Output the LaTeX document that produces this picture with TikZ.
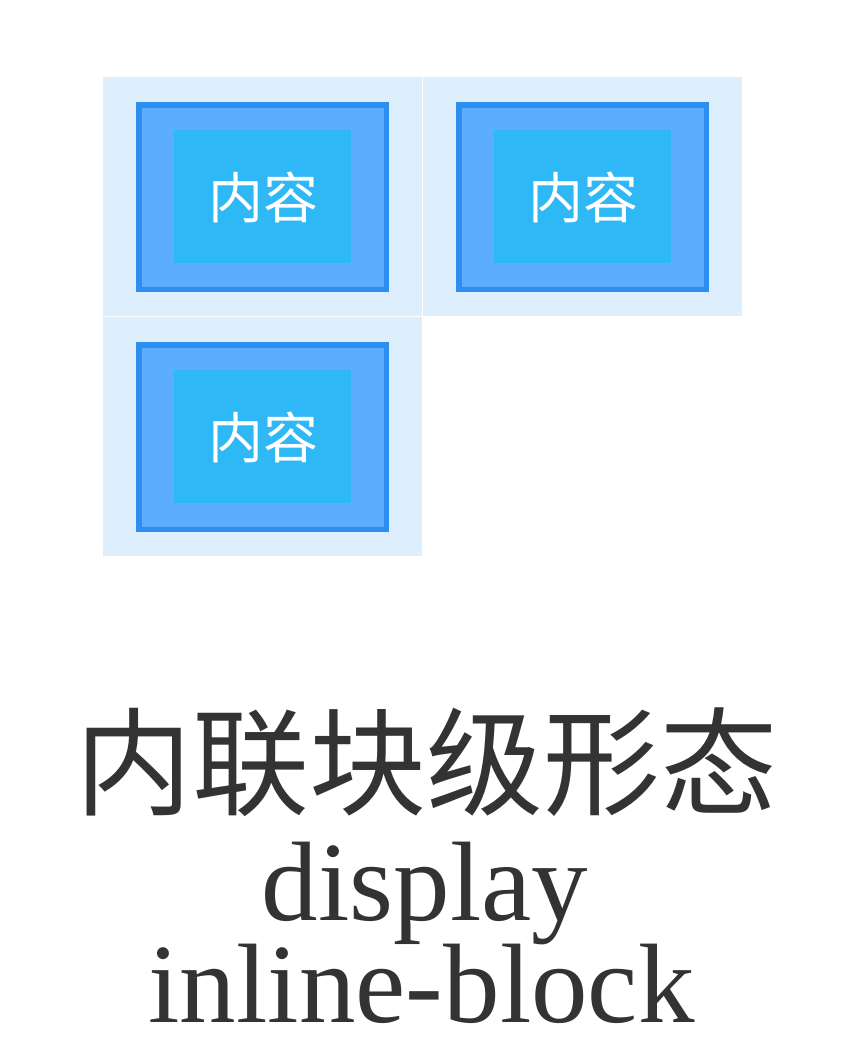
\documentclass[tikz,border=0pt]{standalone}
\usepackage{fontspec}
\setmainfont{Liberation Serif}
\newfontfamily\cjk{Noto Sans CJK SC}
\definecolor{outerbg}{HTML}{DDEEFD}
\definecolor{bordercol}{HTML}{2E8EF0}
\definecolor{padcol}{HTML}{5CADFF}
\definecolor{contentcol}{HTML}{2EB9F6}
\definecolor{textcol}{HTML}{333333}
\tikzset{
  outerbox/.style={fill=outerbg, draw=none},
  borderbox/.style={fill=padcol, draw=bordercol, line width=5.5pt},
  contentbox/.style={fill=contentcol, draw=none},
  contenttext/.style={text=white, font=\cjk\fontsize{55}{60}\selectfont, inner sep=0pt},
  titlecn/.style={text=textcol, font=\cjk\fontsize{117}{125}\selectfont, inner sep=0pt},
  titleen/.style={text=textcol, font=\fontsize{113}{120}\selectfont, inner sep=0pt, anchor=base},
}
\begin{document}
\begin{tikzpicture}[x=1pt,y=-1pt]
\useasboundingbox (0,0) rectangle (850,1063);
\fill[white] (0,0) rectangle (850,1063);
\foreach \ox/\oy/\nm in {103/77/a, 423/77/b, 103/317/c}{
  \fill[outerbox] (\ox,\oy) rectangle ++(319,239);
  \draw[borderbox] ({\ox+35.75},{\oy+27.75}) rectangle ({\ox+283.25},{\oy+212.25});
  \fill[contentbox] ({\ox+71},{\oy+53}) rectangle ({\ox+248},{\oy+186});
  \node[contenttext] (txt\nm) at ({\ox+160},{\oy+120}) {内容};
}
\node[titlecn] (cn) at (426.5,762) {内联块级形态};
\node[titleen] (disp) at (425,920) {display};
\node[titleen] (ib) at (421.5,1022) {inline-block};
\end{tikzpicture}
\end{document}
